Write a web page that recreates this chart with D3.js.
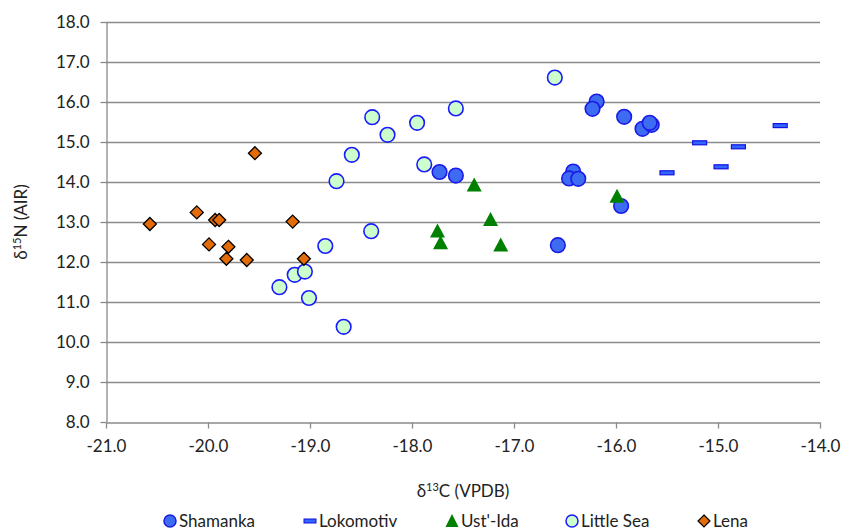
<!DOCTYPE html>
<html>
<head>
<meta charset="utf-8">
<script src="https://cdn.jsdelivr.net/npm/d3@7"></script>
<style>
  html, body { margin: 0; padding: 0; background: #fff; }
  svg { display: block; font-family: Lato, "Open Sans", sans-serif; }
</style>
</head>
<body>
<svg id="chart" width="842" height="530"></svg>
<script>
// ---- data ----
const shamankaX = [-17.73, -17.57, -16.57, -16.19, -16.23, -15.92, -15.74, -15.65, -15.67, -16.42, -16.46, -16.37, -15.95];
const shamankaY = [14.25, 14.16, 12.42, 16.01, 15.83, 15.63, 15.33, 15.43, 15.48, 14.26, 14.09, 14.08, 13.40];
const lokomotivX = [-15.50, -15.18, -14.97, -14.80, -14.39];
const lokomotivY = [14.23, 14.98, 14.38, 14.88, 15.41];
const ustIdaX = [-17.75, -17.72, -17.23, -17.13, -17.39, -15.99];
const ustIdaY = [12.76, 12.47, 13.05, 12.41, 13.91, 13.63];
const littleSeaX = [-19.30, -19.15, -19.05, -19.01, -18.85, -18.67, -18.40, -18.74, -18.59, -18.39, -18.24, -17.95, -17.88, -17.57, -16.60];
const littleSeaY = [11.37, 11.68, 11.76, 11.10, 12.40, 10.38, 12.77, 14.02, 14.68, 15.62, 15.18, 15.48, 14.44, 15.84, 16.61];
const lenaX = [-20.57, -20.11, -19.93, -19.89, -19.99, -19.80, -19.82, -19.62, -19.17, -19.54, -19.06];
const lenaY = [12.95, 13.24, 13.05, 13.05, 12.44, 12.38, 12.08, 12.05, 13.01, 14.72, 12.08];
const xTicks = [-21, -20, -19, -18, -17, -16, -15, -14];
const yTicks = [8, 9, 10, 11, 12, 13, 14, 15, 16, 17, 18];
const seriesNames = ["Shamanka", "Lokomotiv", "Ust'-Ida", "Little Sea", "Lena"];

const zip = (xs, ys) => xs.map((x, i) => ({x, y: ys[i]}));
const series = [
  {name: seriesNames[0], type: "circle", fill: "#3D6BF2", stroke: "#1B1BE8", pts: zip(shamankaX, shamankaY)},
  {name: seriesNames[1], type: "dash", fill: "#3366FF", stroke: "#1111E0", pts: zip(lokomotivX, lokomotivY)},
  {name: seriesNames[2], type: "triangle", fill: "#008000", stroke: "none", pts: zip(ustIdaX, ustIdaY)},
  {name: seriesNames[3], type: "circle", fill: "#CCFFCC", stroke: "#1A1AFF", pts: zip(littleSeaX, littleSeaY)},
  {name: seriesNames[4], type: "diamond", fill: "#E36C09", stroke: "#000000", pts: zip(lenaX, lenaY)}
];

// ---- layout ----
const svg = d3.select("#chart");
const L = 106, R = 820, T = 22, B = 422;
const x = d3.scaleLinear().domain([-21, -14]).range([L, R]);
const y = d3.scaleLinear().domain([8, 18]).range([B, T]);
const axisColor = "#8a8a8a";
const textColor = "#222";
const fmt = v => d3.format(".1f")(v).replace("\u2212", "-");
const FS = 17;

// gridlines
svg.append("g").selectAll("line").data(yTicks.filter(v => v !== 8)).join("line")
  .attr("x1", L).attr("x2", R)
  .attr("y1", d => Math.round(y(d)) + 0.5).attr("y2", d => Math.round(y(d)) + 0.5)
  .attr("stroke", axisColor).attr("stroke-width", 1.3);

// y axis
const yAxis = svg.append("g").attr("transform", `translate(${L + 0.5},0)`)
  .call(d3.axisLeft(y).tickValues(yTicks).tickFormat(fmt).tickSize(6).tickSizeOuter(0));
yAxis.select(".domain").attr("stroke", axisColor).attr("stroke-width", 1.3);
yAxis.selectAll(".tick line").attr("stroke", axisColor).attr("stroke-width", 1.3);
yAxis.selectAll(".tick text").attr("x", -17).attr("fill", textColor).attr("font-size", FS)
  .attr("font-family", "Lato, sans-serif");

// x axis
const xAxis = svg.append("g").attr("transform", `translate(0,${B + 0.5})`)
  .call(d3.axisBottom(x).tickValues(xTicks).tickFormat(fmt).tickSize(6).tickSizeOuter(0));
xAxis.select(".domain").attr("stroke", axisColor).attr("stroke-width", 1.3);
xAxis.selectAll(".tick line").attr("stroke", axisColor).attr("stroke-width", 1.3);
xAxis.selectAll(".tick text").attr("y", 17).attr("fill", textColor).attr("font-size", FS)
  .attr("font-family", "Lato, sans-serif");

// axis titles
const xt = svg.append("text").attr("x", 463).attr("y", 497).attr("text-anchor", "middle")
  .attr("font-size", FS).attr("fill", textColor);
xt.append("tspan").text("δ");
xt.append("tspan").text("13").attr("font-size", 11).attr("dy", -6);
xt.append("tspan").text("C (VPDB)").attr("dy", 6);

const yt = svg.append("text").attr("transform", "translate(27,222) rotate(-90)").attr("text-anchor", "middle")
  .attr("font-size", FS).attr("fill", textColor);
yt.append("tspan").text("δ");
yt.append("tspan").text("15").attr("font-size", 11).attr("dy", -6);
yt.append("tspan").text("N (AIR)").attr("dy", 6);

// marker drawing
function drawMarker(g, type, fill, stroke) {
  if (type === "circle") {
    g.append("circle").attr("r", 7.3).attr("fill", fill).attr("stroke", stroke).attr("stroke-width", 1.6);
  } else if (type === "dash") {
    g.append("rect").attr("x", -7).attr("y", -2).attr("width", 14).attr("height", 4)
      .attr("fill", fill).attr("stroke", stroke).attr("stroke-width", 1.2);
  } else if (type === "triangle") {
    g.append("path").attr("d", "M0,-8L7.5,6L-7.5,6Z").attr("fill", fill);
  } else if (type === "diamond") {
    g.append("path").attr("d", "M0,-6.5L6.5,0L0,6.5L-6.5,0Z").attr("fill", fill)
      .attr("stroke", stroke).attr("stroke-width", 1.3);
  }
}

// points
series.forEach(s => {
  const g = svg.append("g");
  s.pts.forEach(p => {
    const m = g.append("g").attr("transform", `translate(${x(p.x)},${y(p.y)})`);
    drawMarker(m, s.type, s.fill, s.stroke);
  });
});

// legend
const legendX = [170, 310, 452, 572, 704];
series.forEach((s, i) => {
  const m = svg.append("g").attr("transform", `translate(${legendX[i]},521)`);
  if (s.type === "circle") {
    m.append("circle").attr("r", 6).attr("fill", s.fill).attr("stroke", s.stroke).attr("stroke-width", 1.5);
  } else if (s.type === "dash") {
    m.append("rect").attr("x", -6).attr("y", -2).attr("width", 12).attr("height", 4)
      .attr("fill", s.fill).attr("stroke", s.stroke).attr("stroke-width", 1);
  } else if (s.type === "triangle") {
    m.append("path").attr("d", "M0,-7L6.5,6L-6.5,6Z").attr("fill", s.fill);
  } else {
    m.append("path").attr("d", "M0,-6L6,0L0,6L-6,0Z").attr("fill", s.fill).attr("stroke", s.stroke).attr("stroke-width", 1.2);
  }
  svg.append("text").attr("x", legendX[i] + 9).attr("y", 527).attr("font-size", FS).attr("fill", textColor)
    .text(s.name);
});
</script>
</body>
</html>
